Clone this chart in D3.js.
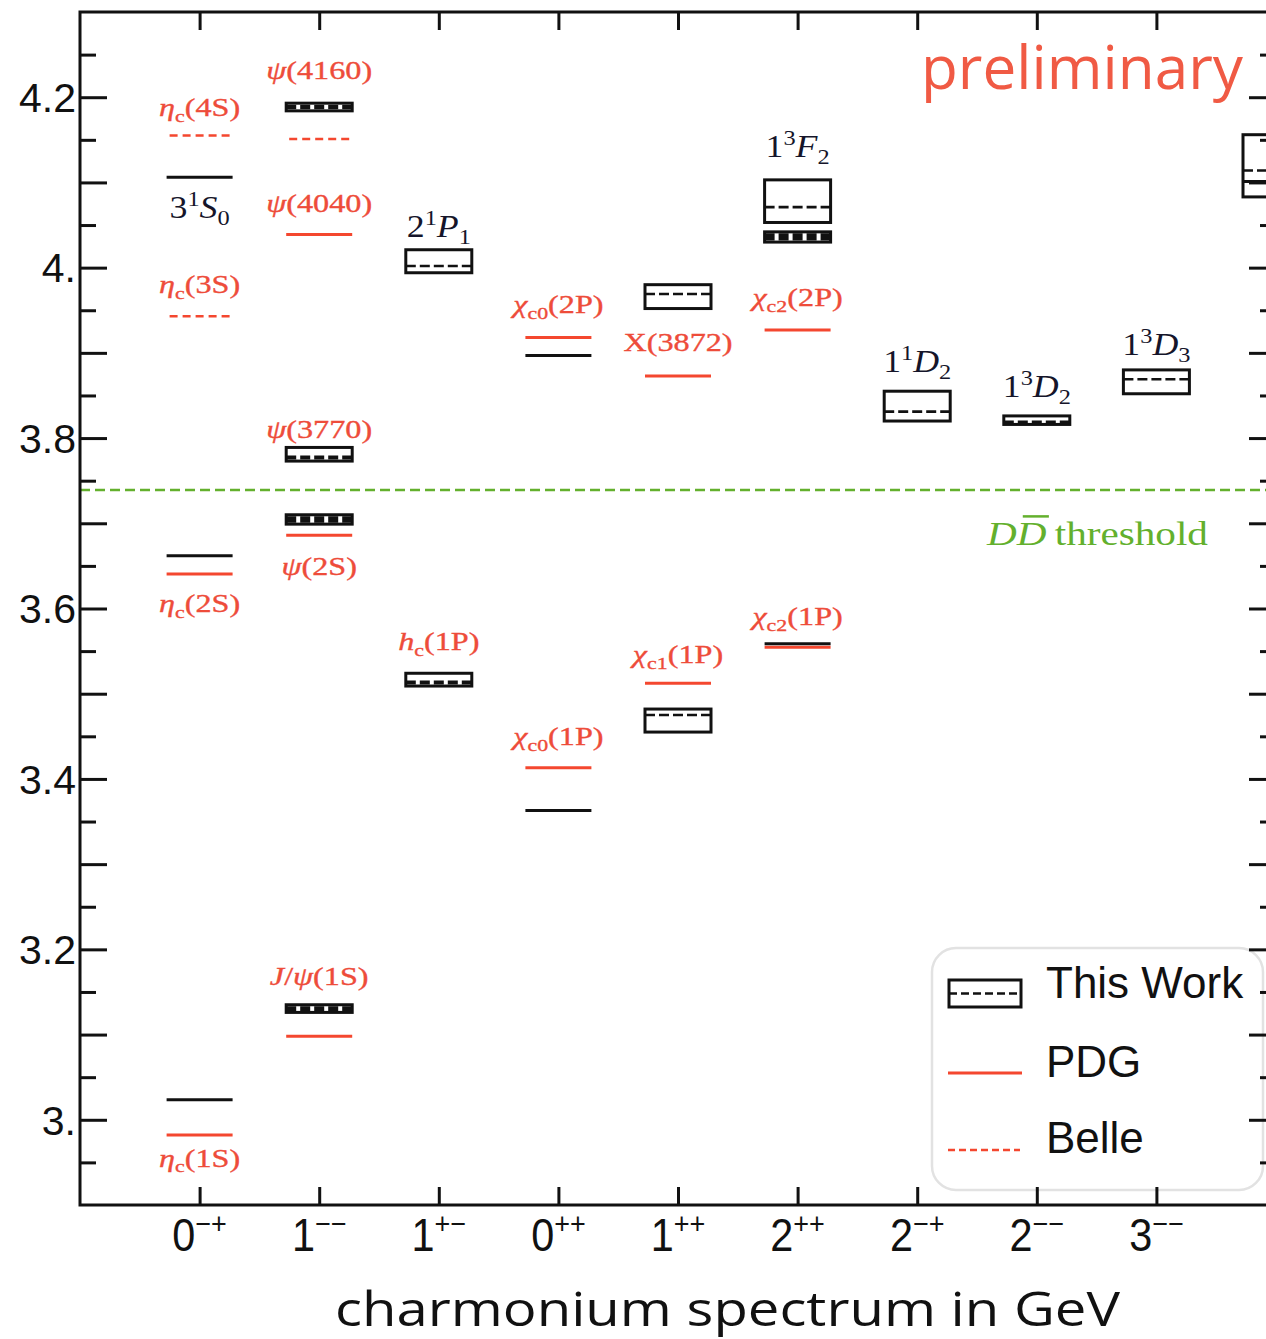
<!DOCTYPE html>
<html><head><meta charset="utf-8">
<script src="https://cdn.jsdelivr.net/npm/d3@7"></script>
<style>body{margin:0;background:#fff}</style>
</head><body>
<svg id="c" width="1266" height="1339" xmlns="http://www.w3.org/2000/svg"></svg>
<script>
// ---------------- data ----------------
const categoryBase = ["0","1","1","0","1","2","2","2","3"];
const categorySup  = ["\u2212+","\u2212\u2212","+\u2212","++","++","++","\u2212+","\u2212\u2212","\u2212\u2212"];
const yMajorTicks = [3.0,3.1,3.2,3.3,3.4,3.5,3.6,3.7,3.8,3.9,4.0,4.1,4.2];
const yMinorTicks = [2.95,3.05,3.15,3.25,3.35,3.45,3.55,3.65,3.75,3.85,3.95,4.05,4.15,4.25];
const yTickValues = [3.0,3.2,3.4,3.6,3.8,4.0,4.2];
const yTickLabels = ["3.","3.2","3.4","3.6","3.8","4.","4.2"];

// This Work: boxes (category index, central mass, lower, upper) in GeV
const workCat  = [1,     1,     1,     1,     2,     2,     4,     4,     5,     5,     6,     7,     8,     9];
const workMass = [4.188, 3.778, 3.705, 3.130, 4.002, 3.514, 3.969, 3.475, 4.071, 4.036, 3.831, 3.819, 3.869, 4.114];
const workLow  = [4.184, 3.773, 3.699, 3.126, 3.994, 3.509, 3.952, 3.455, 4.053, 4.030, 3.820, 3.816, 3.852, 4.083];
const workHigh = [4.193, 3.789, 3.710, 3.135, 4.021, 3.524, 3.980, 3.482, 4.103, 4.042, 3.855, 3.826, 3.880, 4.156];
// This Work: single black levels
const levelCat  = [0,     0,     0,      3,     3,     5,      9];
const levelMass = [4.106, 3.662, 3.0235, 3.897, 3.363, 3.5585, 4.101];
// PDG
const pdgCat  = [0,      0,     1,     1,     1,     3,     3,     4,      4,      5,      5];
const pdgMass = [3.6405, 2.982, 4.039, 3.686, 3.098, 3.918, 3.413, 3.8727, 3.5123, 3.9267, 3.5545];
// Belle
const belleCat  = [0,     0,     1];
const belleMass = [4.155, 3.943, 4.151];
// DDbar threshold
const thresholdMass = 3.739;

// State names (red: experimental; black: predictions), anchored in data coordinates
const redLabelText = ["*\u03b7*_{c}(4S)","*\u03c8*(4160)","*\u03c8*(4040)","*\u03b7*_{c}(3S)","*\u03c7*_{c0}(2P)","X(3872)","*\u03c7*_{c2}(2P)",
                      "*\u03c8*(3770)","*\u03c8*(2S)","*\u03b7*_{c}(2S)","*h*_{c}(1P)","*\u03c7*_{c0}(1P)","*\u03c7*_{c1}(1P)","*\u03c7*_{c2}(1P)",
                      "*J*/*\u03c8*(1S)","*\u03b7*_{c}(1S)"];
const redLabelCat  = [0, 1, 1, 0, 3, 4, 5, 1, 1, 0, 2, 3, 4, 5, 1, 0];
const redLabelMass = [4.1777, 4.2211, 4.0651, 3.9701, 3.9466, 3.9021, 3.9548, 3.800, 3.6393, 3.5959, 3.5513, 3.4399, 3.5361, 3.5806, 3.1584, 2.9449];
const blackLabelText = ["3^{1}*S*_{0}","2^{1}*P*_{1}","1^{3}*F*_{2}","1^{1}*D*_{2}","1^{3}*D*_{2}","1^{3}*D*_{3}"];
const blackLabelCat  = [0, 2, 5, 6, 7, 8];
const blackLabelMass = [4.0581, 4.0358, 4.1296, 3.8774, 3.8481, 3.8974];

const legendNames = ["This Work","PDG","Belle"];

// ---------------- drawing ----------------
const RED = "#f4472f", REDTXT = "#ee4c3a", GREEN = "#63b02d", INK = "#111";
const svg = d3.select("#c");
const L = 80, R = 1276, T = 12, B = 1205;
const x = d3.scaleLinear().domain([-1, 9]).range([L, R]);
const y = d3.scaleLinear().domain([2.9, 4.3]).range([B, T]);
const HW = 33; // half width of a level

// threshold
svg.append("line").attr("x1", L).attr("x2", R).attr("y1", y(thresholdMass)).attr("y2", y(thresholdMass))
  .attr("stroke", GREEN).attr("stroke-width", 2.5).attr("stroke-dasharray", "10,5");

// PDG
svg.append("g").selectAll("line").data(d3.range(pdgCat.length)).join("line")
  .attr("x1", i => x(pdgCat[i]) - HW).attr("x2", i => x(pdgCat[i]) + HW)
  .attr("y1", i => y(pdgMass[i])).attr("y2", i => y(pdgMass[i]))
  .attr("stroke", RED).attr("stroke-width", 3);
// Belle
svg.append("g").selectAll("line").data(d3.range(belleCat.length)).join("line")
  .attr("x1", i => x(belleCat[i]) - HW + 3).attr("x2", i => x(belleCat[i]) + HW)
  .attr("y1", i => y(belleMass[i])).attr("y2", i => y(belleMass[i]))
  .attr("stroke", RED).attr("stroke-width", 2.5).attr("stroke-dasharray", "8,5");
// This work boxes
const SW = 3, DW = 2.6;
function band(i) {
  const yc = y(workMass[i]), top = y(workHigh[i]) + SW / 2, bot = y(workLow[i]) - SW / 2;
  let a = yc - DW / 2, b = yc + DW / 2;
  if (a - top < 2.5) a = top;
  if (bot - b < 2.5) b = bot;
  return [a, b];
}
const boxes = svg.append("g").selectAll("g").data(d3.range(workCat.length)).join("g");
boxes.append("rect")
  .attr("x", i => x(workCat[i]) - HW).attr("width", 2 * HW)
  .attr("y", i => y(workHigh[i])).attr("height", i => y(workLow[i]) - y(workHigh[i]))
  .attr("fill", "none").attr("stroke", INK).attr("stroke-width", SW);
boxes.append("line")
  .attr("x1", i => x(workCat[i]) - HW).attr("x2", i => x(workCat[i]) + HW)
  .attr("y1", i => d3.mean(band(i))).attr("y2", i => d3.mean(band(i)))
  .attr("stroke", INK).attr("stroke-width", i => band(i)[1] - band(i)[0]).attr("stroke-dasharray", "10,4");
// This work single levels
svg.append("g").selectAll("line").data(d3.range(levelCat.length)).join("line")
  .attr("x1", i => x(levelCat[i]) - HW).attr("x2", i => x(levelCat[i]) + HW)
  .attr("y1", i => y(levelMass[i])).attr("y2", i => y(levelMass[i]))
  .attr("stroke", INK).attr("stroke-width", 3);

// rich text helper: *italic*, _{sub}, ^{sup}
function rich(textSel, str, size) {
  const parts = str.split(/(\*[^*]+\*|_\{[^}]*\}|\^\{[^}]*\})/g).filter(s => s);
  let off = 0;
  parts.forEach(p => {
    let t = p, it = false, shift = 0, fs = size;
    if (p[0] === "*") { t = p.slice(1, -1); it = true; }
    else if (p.startsWith("_{")) { t = p.slice(2, -1); shift = 0.22 * size; fs = 0.68 * size; }
    else if (p.startsWith("^{")) { t = p.slice(2, -1); shift = -0.38 * size; fs = 0.68 * size; }
    const ts = textSel.append("tspan").text(t).attr("font-size", fs).attr("dy", shift - off);
    if (it) ts.attr("font-style", "italic");
    off = shift;
  });
}
const redG = svg.append("g");
redLabelText.forEach((s, i) => {
  const t = redG.append("text")
    .attr("transform", `translate(${x(redLabelCat[i])},${y(redLabelMass[i])}) scale(1.24,1)`)
    .attr("text-anchor", "middle").attr("font-family", "Liberation Serif, serif").attr("fill", REDTXT)
    .attr("stroke", REDTXT).attr("stroke-width", 0.35);
  rich(t, s, 26);
});
const blkG = svg.append("g");
blackLabelText.forEach((s, i) => {
  const t = blkG.append("text")
    .attr("transform", `translate(${x(blackLabelCat[i])},${y(blackLabelMass[i])}) scale(1.12,1)`)
    .attr("text-anchor", "middle").attr("font-family", "Liberation Serif, serif").attr("fill", "#15152a");
  rich(t, s, 32);
});

// DD threshold label
{
  const g = svg.append("g").attr("transform", "translate(987,545)");
  const t = g.append("text").attr("font-family", "Liberation Serif, serif").attr("font-size", 34).attr("fill", GREEN);
  t.append("tspan").text("DD").attr("font-style", "italic");
  t.append("tspan").text("\u2009threshold");
  const w = t.node().getComputedTextLength();
  const s = 221 / w;
  g.attr("transform", `translate(987,545) scale(${s},1)`);
  const e = t.node().getExtentOfChar(1);
  g.append("line").attr("x1", e.x + 5).attr("x2", e.x + e.width + 2).attr("y1", e.y + 2).attr("y2", e.y + 2)
    .attr("stroke", GREEN).attr("stroke-width", 2.5);
}

// preliminary
svg.append("text").attr("x", 921).attr("y", 89).attr("font-family", "Open Sans, sans-serif").attr("font-size", 60)
  .attr("fill", "#f05a44").attr("textLength", 322).attr("lengthAdjust", "spacingAndGlyphs").text("preliminary");

// legend
{
  const g = svg.append("g");
  g.append("rect").attr("x", 932).attr("y", 948).attr("width", 331).attr("height", 242).attr("rx", 24)
    .attr("fill", "#fff").attr("stroke", "#e2e2e2").attr("stroke-width", 2.5);
  g.append("rect").attr("x", 949).attr("y", 980).attr("width", 72).attr("height", 27)
    .attr("fill", "none").attr("stroke", INK).attr("stroke-width", 3);
  g.append("line").attr("x1", 949).attr("x2", 1021).attr("y1", 993.5).attr("y2", 993.5)
    .attr("stroke", INK).attr("stroke-width", 2.5).attr("stroke-dasharray", "8,4");
  g.append("line").attr("x1", 948).attr("x2", 1022).attr("y1", 1073).attr("y2", 1073)
    .attr("stroke", RED).attr("stroke-width", 3);
  g.append("line").attr("x1", 948).attr("x2", 1020).attr("y1", 1150).attr("y2", 1150)
    .attr("stroke", RED).attr("stroke-width", 2.5).attr("stroke-dasharray", "7,4");
  const ly = [998, 1077, 1153];
  legendNames.forEach((n, i) => {
    g.append("text").attr("x", 1046).attr("y", ly[i]).attr("font-family", "Liberation Sans, Arial, sans-serif")
      .attr("font-size", 44).attr("fill", INK).text(n);
  });
}

// frame & axes
const axG = svg.append("g");
axG.append("rect").attr("x", L).attr("y", T).attr("width", R - L).attr("height", B - T)
  .attr("fill", "none").attr("stroke", INK).attr("stroke-width", 3);
function styleAxis(g) { g.select(".domain").remove(); g.selectAll("line").attr("stroke", INK).attr("stroke-width", 3); }
axG.append("g").attr("transform", `translate(${L},0)`)
  .call(d3.axisLeft(y).tickValues(yMajorTicks).tickSize(-27).tickFormat(""))
  .call(styleAxis);
axG.append("g").attr("transform", `translate(${L},0)`)
  .call(d3.axisLeft(y).tickValues(yMinorTicks).tickSize(-16).tickFormat(""))
  .call(styleAxis);
axG.append("g").attr("transform", `translate(${R},0)`)
  .call(d3.axisRight(y).tickValues(yMajorTicks).tickSize(-27).tickFormat(""))
  .call(styleAxis);
axG.append("g").attr("transform", `translate(${R},0)`)
  .call(d3.axisRight(y).tickValues(yMinorTicks).tickSize(-16).tickFormat(""))
  .call(styleAxis);
const cats = d3.range(categoryBase.length);
axG.append("g").attr("transform", `translate(0,${B})`)
  .call(d3.axisBottom(x).tickValues(cats).tickSize(-18).tickFormat(""))
  .call(styleAxis);
axG.append("g").attr("transform", `translate(0,${T})`)
  .call(d3.axisTop(x).tickValues(cats).tickSize(-18).tickFormat(""))
  .call(styleAxis);
// y tick labels
axG.append("g").selectAll("text").data(yTickValues).join("text")
  .attr("x", 76).attr("y", d => y(d)).attr("dy", "0.36em").attr("text-anchor", "end")
  .attr("font-family", "Liberation Sans, Arial, sans-serif").attr("font-size", 41).attr("fill", INK)
  .text((d, i) => yTickLabels[i]);
// x tick labels
cats.forEach(i => {
  const t = axG.append("text").attr("transform", `translate(${x(i)},1251) scale(0.9,1)`).attr("text-anchor", "middle")
    .attr("font-family", "Liberation Sans, Arial, sans-serif").attr("fill", INK);
  t.append("tspan").text(categoryBase[i]).attr("font-size", 46);
  t.append("tspan").text(categorySup[i]).attr("font-size", 30).attr("dy", -17);
});
// x title
svg.append("text").attr("x", 335).attr("y", 1326).attr("font-family", "Open Sans, sans-serif").attr("font-size", 48)
  .attr("fill", INK).attr("textLength", 785).attr("lengthAdjust", "spacingAndGlyphs").text("charmonium spectrum in GeV");
</script>
</body></html>
